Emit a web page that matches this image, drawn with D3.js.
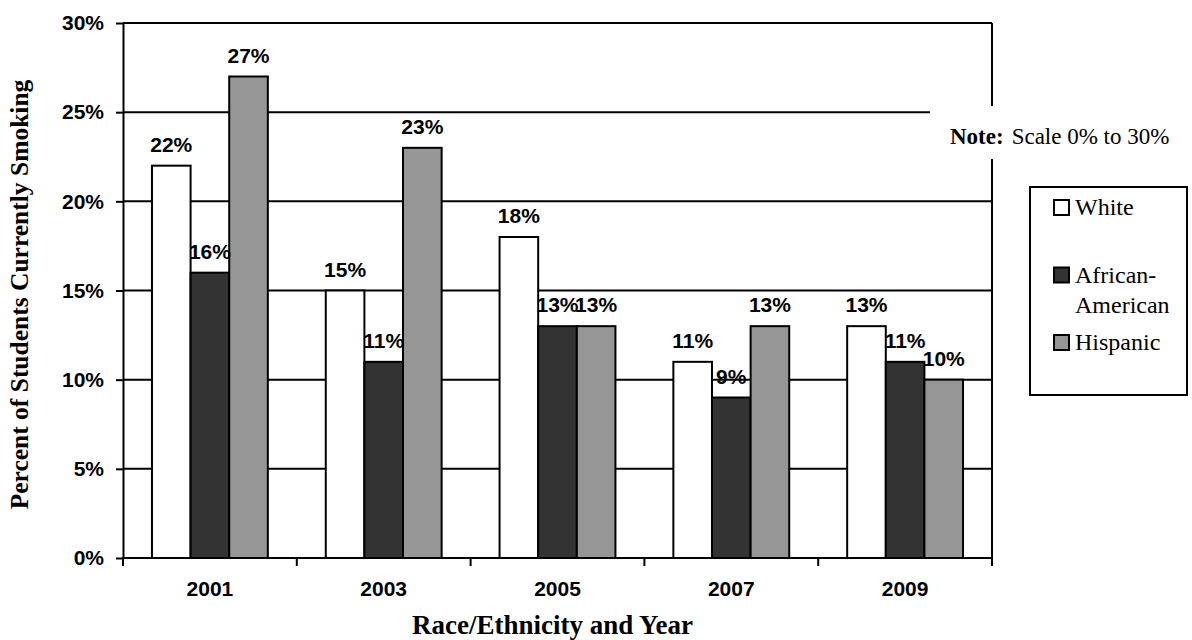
<!DOCTYPE html>
<html>
<head>
<meta charset="utf-8">
<script src="https://cdn.jsdelivr.net/npm/d3@7"></script>
<style>
  body { margin: 0; background: #fff; }
  svg { display: block; }
</style>
</head>
<body>
<script>
// smoking rates by race/ethnicity and year
const years = ["2001", "2003", "2005", "2007", "2009"];
const seriesNames = ["White", "African-American", "Hispanic"];
const legendLines = [["White"], ["African-", "American"], ["Hispanic"]];
const white = [22, 15, 18, 11, 13];
const african = [16, 11, 13, 9, 11];
const hispanic = [27, 23, 13, 13, 10];
const yTicks = [0, 5, 10, 15, 20, 25, 30];

const fills = ["#ffffff", "#333333", "#969696"];
const sans = "'Liberation Sans', Arial, sans-serif";
const serif = "'Liberation Serif', 'Times New Roman', serif";

var W = 1192, H = 640;
var plot = {left: 123, right: 992, top: 23, bottom: 558};

var svg = d3.select("body").append("svg")
    .attr("width", W)
    .attr("height", H);

// scales
var x = d3.scaleBand().domain(years).range([plot.left, plot.right]).padding(0);
var xInner = d3.scaleBand().domain(seriesNames).range([0, x.bandwidth()])
    .paddingInner(0).paddingOuter(0.75);
var y = d3.scaleLinear().domain([0, 30]).range([plot.bottom, plot.top]);

// gridlines
svg.append("g").selectAll("line")
    .data(yTicks.filter(function(d) { return d > 0; }))
  .enter().append("line")
    .attr("x1", plot.left).attr("x2", plot.right)
    .attr("y1", function(d) { return y(d); })
    .attr("y2", function(d) { return y(d); })
    .attr("stroke", "#000").attr("stroke-width", 2);

// right border
svg.append("line")
    .attr("x1", plot.right).attr("x2", plot.right)
    .attr("y1", plot.top).attr("y2", plot.bottom + 8)
    .attr("stroke", "#000").attr("stroke-width", 2);

// bars
var rows = years.map(function(yr, i) {
  return {year: yr, values: [white[i], african[i], hispanic[i]]};
});

var groups = svg.append("g").selectAll("g")
    .data(rows)
  .enter().append("g")
    .attr("transform", function(d) { return "translate(" + x(d.year) + ",0)"; });

groups.selectAll("rect")
    .data(function(d) { return d.values.map(function(v, k) { return {name: seriesNames[k], v: v, k: k}; }); })
  .enter().append("rect")
    .attr("x", function(d) { return xInner(d.name); })
    .attr("y", function(d) { return y(d.v); })
    .attr("width", xInner.bandwidth())
    .attr("height", function(d) { return y(0) - y(d.v); })
    .attr("fill", function(d) { return fills[d.k]; })
    .attr("stroke", "#000").attr("stroke-width", 2);

groups.selectAll("text")
    .data(function(d) { return d.values.map(function(v, k) { return {name: seriesNames[k], v: v}; }); })
  .enter().append("text")
    .attr("x", function(d) { return xInner(d.name) + xInner.bandwidth() / 2; })
    .attr("y", function(d) { return y(d.v) - 14; })
    .attr("text-anchor", "middle")
    .style("font-family", sans).style("font-weight", "bold").style("font-size", "21px")
    .text(function(d) { return d.v + "%"; });

// y axis
var yAxis = svg.append("g")
    .attr("transform", "translate(" + plot.left + ",0)")
    .call(d3.axisLeft(y).tickValues(yTicks).tickSize(7).tickSizeOuter(0)
      .tickPadding(12).tickFormat(function(d) { return d + "%"; }));
yAxis.select(".domain").attr("stroke-width", 2);
yAxis.selectAll(".tick line").attr("stroke-width", 2);
yAxis.selectAll("text")
    .style("font-family", sans).style("font-weight", "bold").style("font-size", "21px")
    .attr("fill", "#000");

// x axis
svg.append("line")
    .attr("x1", plot.left - 1).attr("x2", plot.right + 1)
    .attr("y1", plot.bottom).attr("y2", plot.bottom)
    .attr("stroke", "#000").attr("stroke-width", 2);

svg.append("g").selectAll("line")
    .data(years.map(function(d) { return x(d); }).concat([plot.right]))
  .enter().append("line")
    .attr("x1", function(d) { return d; }).attr("x2", function(d) { return d; })
    .attr("y1", plot.bottom).attr("y2", plot.bottom + 8)
    .attr("stroke", "#000").attr("stroke-width", 2);

svg.append("g").selectAll("text")
    .data(years)
  .enter().append("text")
    .attr("x", function(d) { return x(d) + x.bandwidth() / 2; })
    .attr("y", 596)
    .attr("text-anchor", "middle")
    .style("font-family", sans).style("font-weight", "bold").style("font-size", "21px")
    .text(function(d) { return d; });

// axis titles
svg.append("text")
    .attr("x", (plot.left + plot.right) / 2 - 5)
    .attr("y", 634)
    .attr("text-anchor", "middle")
    .style("font-family", serif).style("font-weight", "bold").style("font-size", "27px")
    .text("Race/Ethnicity and Year");

svg.append("text")
    .attr("transform", "translate(28," + ((plot.top + plot.bottom) / 2 + 4) + ") rotate(-90)")
    .attr("text-anchor", "middle")
    .style("font-family", serif).style("font-weight", "bold").style("font-size", "25.5px")
    .text("Percent of Students Currently Smoking");

// note box (covers part of the gridline and border)
svg.append("rect")
    .attr("x", 930).attr("y", 106)
    .attr("width", 258).attr("height", 53)
    .attr("fill", "#fff");

var note = svg.append("text")
    .attr("x", 950).attr("y", 144)
    .style("font-family", serif).style("font-size", "23px");
note.append("tspan").style("font-weight", "bold").text("Note:");
note.append("tspan").attr("dx", 8).text("Scale 0% to 30%");

// legend
svg.append("rect")
    .attr("x", 1030).attr("y", 187)
    .attr("width", 157).attr("height", 208)
    .attr("fill", "#fff").attr("stroke", "#000").attr("stroke-width", 2);

var legend = svg.append("g").selectAll("g")
    .data(legendLines)
  .enter().append("g")
    .attr("transform", function(d, i) { return "translate(1054," + (200 + i * 67.5) + ")"; });

legend.append("rect")
    .attr("width", 15).attr("height", 15)
    .attr("fill", function(d, i) { return fills[i]; })
    .attr("stroke", "#000").attr("stroke-width", 2);

legend.append("text")
    .attr("x", 21).attr("y", 15)
    .style("font-family", serif).style("font-size", "24px")
    .selectAll("tspan")
    .data(function(d) { return d; })
  .enter().append("tspan")
    .attr("x", 21)
    .attr("dy", function(d, j) { return j === 0 ? 0 : 30; })
    .text(function(d) { return d; });
</script>
</body>
</html>
